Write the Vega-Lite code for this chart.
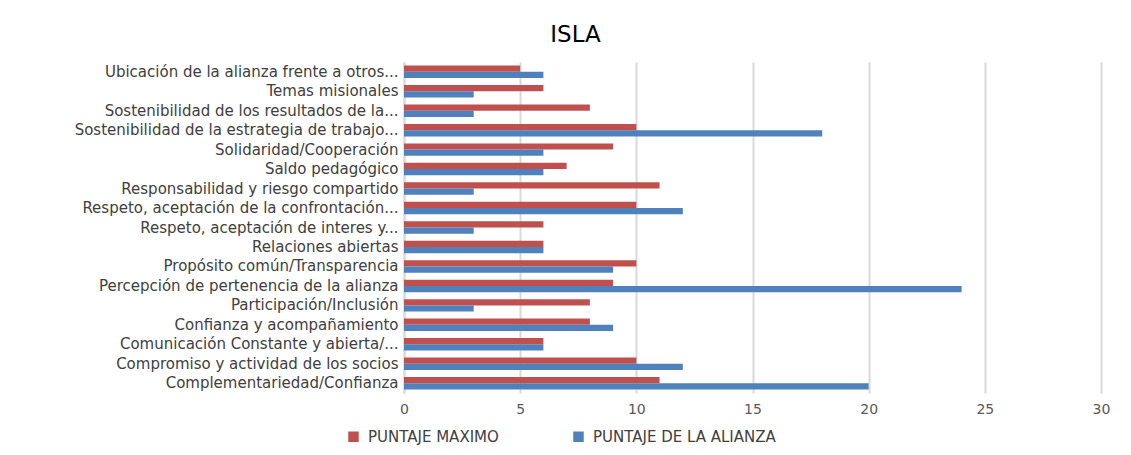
{
  "$schema": "https://vega.github.io/schema/vega-lite/v6.json",
  "width": 697,
  "height": 331,
  "autosize": {"type": "none"},
  "padding": {"left": 404, "top": 62, "right": 30, "bottom": 62},
  "background": "white",
  "title": {"text": "ISLA", "fontSize": 23, "font": "DejaVu Sans", "fontWeight": "normal", "color": "#000000", "anchor": "middle", "dx": -177, "offset": 15},
  "config": {"view": {"stroke": null}},
  "data": {"values": [
    {"cat": "Ubicación de la alianza frente a otros...", "serie": "PUNTAJE MAXIMO", "v": 5},
    {"cat": "Ubicación de la alianza frente a otros...", "serie": "PUNTAJE DE LA ALIANZA", "v": 6},
    {"cat": "Temas misionales", "serie": "PUNTAJE MAXIMO", "v": 6},
    {"cat": "Temas misionales", "serie": "PUNTAJE DE LA ALIANZA", "v": 3},
    {"cat": "Sostenibilidad de los resultados de la...", "serie": "PUNTAJE MAXIMO", "v": 8},
    {"cat": "Sostenibilidad de los resultados de la...", "serie": "PUNTAJE DE LA ALIANZA", "v": 3},
    {"cat": "Sostenibilidad de la estrategia de trabajo...", "serie": "PUNTAJE MAXIMO", "v": 10},
    {"cat": "Sostenibilidad de la estrategia de trabajo...", "serie": "PUNTAJE DE LA ALIANZA", "v": 18},
    {"cat": "Solidaridad/Cooperación", "serie": "PUNTAJE MAXIMO", "v": 9},
    {"cat": "Solidaridad/Cooperación", "serie": "PUNTAJE DE LA ALIANZA", "v": 6},
    {"cat": "Saldo pedagógico", "serie": "PUNTAJE MAXIMO", "v": 7},
    {"cat": "Saldo pedagógico", "serie": "PUNTAJE DE LA ALIANZA", "v": 6},
    {"cat": "Responsabilidad y riesgo compartido", "serie": "PUNTAJE MAXIMO", "v": 11},
    {"cat": "Responsabilidad y riesgo compartido", "serie": "PUNTAJE DE LA ALIANZA", "v": 3},
    {"cat": "Respeto, aceptación de la confrontación...", "serie": "PUNTAJE MAXIMO", "v": 10},
    {"cat": "Respeto, aceptación de la confrontación...", "serie": "PUNTAJE DE LA ALIANZA", "v": 12},
    {"cat": "Respeto, aceptación de interes y...", "serie": "PUNTAJE MAXIMO", "v": 6},
    {"cat": "Respeto, aceptación de interes y...", "serie": "PUNTAJE DE LA ALIANZA", "v": 3},
    {"cat": "Relaciones abiertas", "serie": "PUNTAJE MAXIMO", "v": 6},
    {"cat": "Relaciones abiertas", "serie": "PUNTAJE DE LA ALIANZA", "v": 6},
    {"cat": "Propósito común/Transparencia", "serie": "PUNTAJE MAXIMO", "v": 10},
    {"cat": "Propósito común/Transparencia", "serie": "PUNTAJE DE LA ALIANZA", "v": 9},
    {"cat": "Percepción de pertenencia de la alianza", "serie": "PUNTAJE MAXIMO", "v": 9},
    {"cat": "Percepción de pertenencia de la alianza", "serie": "PUNTAJE DE LA ALIANZA", "v": 24},
    {"cat": "Participación/Inclusión", "serie": "PUNTAJE MAXIMO", "v": 8},
    {"cat": "Participación/Inclusión", "serie": "PUNTAJE DE LA ALIANZA", "v": 3},
    {"cat": "Confianza y acompañamiento", "serie": "PUNTAJE MAXIMO", "v": 8},
    {"cat": "Confianza y acompañamiento", "serie": "PUNTAJE DE LA ALIANZA", "v": 9},
    {"cat": "Comunicación Constante y abierta/...", "serie": "PUNTAJE MAXIMO", "v": 6},
    {"cat": "Comunicación Constante y abierta/...", "serie": "PUNTAJE DE LA ALIANZA", "v": 6},
    {"cat": "Compromiso y actividad de los socios", "serie": "PUNTAJE MAXIMO", "v": 10},
    {"cat": "Compromiso y actividad de los socios", "serie": "PUNTAJE DE LA ALIANZA", "v": 12},
    {"cat": "Complementariedad/Confianza", "serie": "PUNTAJE MAXIMO", "v": 11},
    {"cat": "Complementariedad/Confianza", "serie": "PUNTAJE DE LA ALIANZA", "v": 20}
  ]},
  "mark": {"type": "bar", "stroke": null},
  "encoding": {
    "y": {"field": "cat", "type": "nominal", "sort": null,
      "scale": {"paddingInner": 0.36, "paddingOuter": 0.18},
      "axis": {"title": null, "ticks": false, "domain": true, "domainColor": "#D9D9D9", "domainWidth": 2, "labelFont": "DejaVu Sans", "labelFontSize": 15, "labelColor": "#404040", "labelPadding": 6, "labelLimit": 400}},
    "yOffset": {"field": "serie", "type": "nominal", "sort": ["PUNTAJE MAXIMO", "PUNTAJE DE LA ALIANZA"]},
    "x": {"field": "v", "type": "quantitative",
      "scale": {"domain": [0, 30], "nice": false},
      "axis": {"title": null, "values": [0, 5, 10, 15, 20, 25, 30], "ticks": false, "domain": false, "grid": true, "gridColor": "#D9D9D9", "gridWidth": 2, "labelFlush": false, "labelFont": "DejaVu Sans", "labelFontSize": 14, "labelColor": "#595959", "labelPadding": 9}},
    "color": {"field": "serie", "type": "nominal",
      "scale": {"domain": ["PUNTAJE MAXIMO", "PUNTAJE DE LA ALIANZA"], "range": ["#C0504D", "#4F81BD"]},
      "legend": {"title": null, "orient": "none", "legendX": -58, "legendY": 367, "direction": "horizontal", "symbolType": "square", "symbolSize": 110, "labelFont": "DejaVu Sans", "labelFontSize": 15, "labelColor": "#404040", "labelOffset": 7, "labelLimit": 400, "columnPadding": 72, "symbolStrokeWidth": 0}}
  }
}
